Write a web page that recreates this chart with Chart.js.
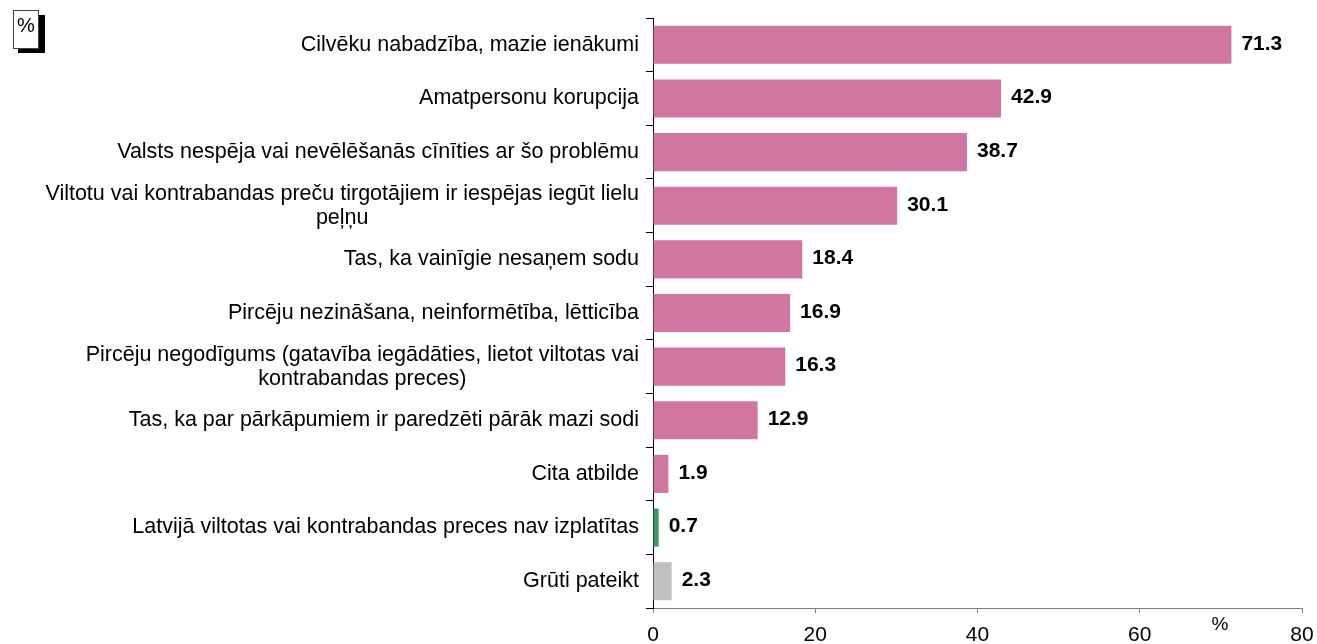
<!DOCTYPE html>
<html>
<head>
<meta charset="utf-8">
<script src="https://cdn.jsdelivr.net/npm/chart.js@4.4.1/dist/chart.umd.min.js"></script>
<style>
  html, body { margin: 0; padding: 0; background: #fff; }
  #wrap { position: relative; width: 1317px; height: 644px; }
</style>
</head>
<body>
<div id="wrap"><canvas id="myChart" width="1317" height="644"></canvas></div>
<script>
const categories = [
    'Cilvēku nabadzība, mazie ienākumi',
    'Amatpersonu korupcija',
    'Valsts nespēja vai nevēlēšanās cīnīties ar šo problēmu',
    ['Viltotu vai kontrabandas preču tirgotājiem ir iespējas iegūt lielu', 'peļņu'],
    'Tas, ka vainīgie nesaņem sodu',
    'Pircēju nezināšana, neinformētība, lētticība',
    ['Pircēju negodīgums (gatavība iegādāties, lietot viltotas vai', 'kontrabandas preces)'],
    'Tas, ka par pārkāpumiem ir paredzēti pārāk mazi sodi',
    'Cita atbilde',
    'Latvijā viltotas vai kontrabandas preces nav izplatītas',
    'Grūti pateikt'
];
const values = [71.3, 42.9, 38.7, 30.1, 18.4, 16.9, 16.3, 12.9, 1.9, 0.7, 2.3];
const xTicks = [0, 20, 40, 60, 80];

const pink = '#D175A1';
const barColors = [pink, pink, pink, pink, pink, pink, pink, pink, pink, '#3A9A66', '#C0C0C0'];

const FONT = 'Arial, "Liberation Sans", sans-serif';

// y labels: lines of a wrapped label are centred on each other, block right-aligned
const yLabelsPlugin = {
    id: 'yLabels',
    afterDraw(chart) {
        const ctx = chart.ctx;
        const y = chart.scales.y;
        ctx.save();
        ctx.font = '21.5px ' + FONT;
        ctx.fillStyle = '#000';
        ctx.textBaseline = 'middle';
        ctx.textAlign = 'center';
        const right = y.right - 14;
        categories.forEach((lab, i) => {
            const lines = Array.isArray(lab) ? lab : [lab];
            const w = Math.max(...lines.map(l => ctx.measureText(l).width));
            const cy = y.getPixelForTick(i);
            const lh = 24;
            lines.forEach((l, j) => {
                ctx.fillText(l, right - w / 2, cy + (j - (lines.length - 1) / 2) * lh);
            });
        });
        ctx.restore();
    }
};

const valueLabelsPlugin = {
    id: 'valueLabels',
    afterDatasetsDraw(chart) {
        const ctx = chart.ctx;
        const meta = chart.getDatasetMeta(0);
        ctx.save();
        ctx.font = 'bold 21px ' + FONT;
        ctx.fillStyle = '#000';
        ctx.textBaseline = 'middle';
        ctx.textAlign = 'left';
        meta.data.forEach((bar, i) => {
            ctx.fillText(values[i].toFixed(1), bar.x + 10, bar.y - 1);
        });
        ctx.restore();
    }
};

const extrasPlugin = {
    id: 'extras',
    afterDraw(chart) {
        const ctx = chart.ctx;
        ctx.save();
        // "%" box with shadow, top left
        ctx.fillStyle = '#000';
        ctx.fillRect(18, 15, 27, 38);
        ctx.fillStyle = '#fff';
        ctx.fillRect(13, 10, 26, 39);
        ctx.strokeStyle = '#444';
        ctx.lineWidth = 1;
        ctx.strokeRect(13.5, 10.5, 25, 38);
        ctx.fillStyle = '#000';
        ctx.font = '20px ' + FONT;
        ctx.textAlign = 'center';
        ctx.textBaseline = 'middle';
        ctx.fillText('%', 26, 26);
        // "%" unit near the x axis
        ctx.font = '19px ' + FONT;
        ctx.fillText('%', 1220, 625);
        ctx.restore();
    }
};

const ctx = document.getElementById('myChart').getContext('2d');
const myChart = new Chart(ctx, {
    type: 'bar',
    data: {
        labels: categories,
        datasets: [{
            data: values,
            backgroundColor: barColors,
            borderWidth: 0,
            barPercentage: 0.71,
            categoryPercentage: 1
        }]
    },
    options: {
        indexAxis: 'y',
        responsive: false,
        animation: false,
        devicePixelRatio: 1,
        layout: { padding: { top: 18, right: 15, left: 0, bottom: 0 } },
        plugins: {
            legend: { display: false },
            tooltip: { enabled: false }
        },
        scales: {
            x: {
                min: 0,
                max: 80,
                afterBuildTicks: scale => { scale.ticks = xTicks.map(v => ({ value: v })); },
                afterFit: scale => {
                    scale.height = 36;
                    scale.paddingLeft = 0;
                    scale.paddingRight = 0;
                },
                border: { color: '#808080', width: 1 },
                grid: { drawOnChartArea: false, drawTicks: true, tickLength: 5, color: '#808080' },
                ticks: {
                    color: '#000',
                    font: { family: FONT, size: 21 },
                    padding: 10,
                    maxRotation: 0
                }
            },
            y: {
                afterFit: scale => { scale.width = 653; },
                border: { color: '#000', width: 1 },
                grid: { offset: true, drawOnChartArea: false, drawTicks: true, tickLength: 7, color: '#000' },
                ticks: { color: 'rgba(0,0,0,0)', font: { family: FONT, size: 21 } }
            }
        }
    },
    plugins: [yLabelsPlugin, valueLabelsPlugin, extrasPlugin]
});
</script>
</body>
</html>
